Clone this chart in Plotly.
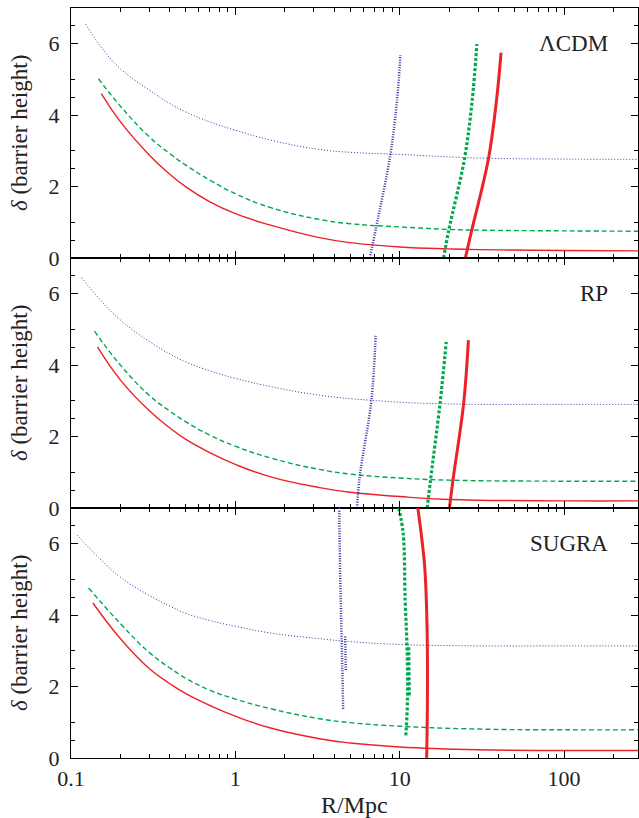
import plotly.graph_objects as go
from plotly.subplots import make_subplots
import math

# ---------------- data (R in Mpc, delta) ----------------
# Panel 1: LambdaCDM
lcdm_blue_R = [0.123, 0.15, 0.2, 0.3, 0.4, 0.5, 0.7, 1, 1.64, 3.25, 5, 10, 30, 100, 282]
lcdm_blue_d = [6.55, 5.95, 5.30, 4.70, 4.32, 4.09, 3.81, 3.58, 3.30, 3.04, 2.96, 2.90, 2.80, 2.77, 2.76]
lcdm_green_R = [0.147, 0.2, 0.3, 0.4, 0.5, 0.7, 1, 1.64, 3.25, 5, 10, 20, 30, 100, 282]
lcdm_green_d = [5.02, 4.25, 3.39, 2.92, 2.60, 2.18, 1.80, 1.41, 1.08, 0.96, 0.87, 0.80, 0.78, 0.76, 0.75]
lcdm_red_R = [0.153, 0.2, 0.3, 0.4, 0.5, 0.7, 1, 1.64, 3.25, 5, 10, 20, 30, 100, 282]
lcdm_red_d = [4.60, 3.81, 2.88, 2.34, 1.99, 1.57, 1.24, 0.92, 0.57, 0.43, 0.31, 0.255, 0.235, 0.21, 0.2]
lcdm_tblue_R = [6.58, 7.2, 8.77, 9.63, 10.1]
lcdm_tblue_d = [0.0, 0.87, 2.88, 4.4, 5.68]
lcdm_tgreen_R = [18.5, 19.9, 24.8, 27.6, 29.5]
lcdm_tgreen_d = [0.0, 0.78, 2.78, 4.4, 5.99]
lcdm_tred_R = [25.1, 27.2, 34.7, 38.8, 41.4]
lcdm_tred_d = [0.0, 0.7, 2.78, 4.4, 5.75]

# Panel 2: RP
rp_blue_R = [0.116, 0.15, 0.2, 0.3, 0.4, 0.5, 0.7, 1, 1.64, 3.25, 6.5, 17.5, 100, 282]
rp_blue_d = [6.45, 5.84, 5.26, 4.66, 4.31, 4.09, 3.84, 3.63, 3.40, 3.16, 3.02, 2.92, 2.90, 2.90]
rp_green_R = [0.139, 0.2, 0.3, 0.4, 0.5, 0.7, 1, 1.64, 3.25, 5, 10, 20, 100, 282]
rp_green_d = [4.95, 4.00, 3.15, 2.71, 2.41, 2.04, 1.73, 1.40, 1.08, 0.95, 0.84, 0.78, 0.75, 0.75]
rp_red_R = [0.145, 0.2, 0.3, 0.4, 0.5, 0.7, 1, 1.64, 3.25, 5, 10, 20, 100, 282]
rp_red_d = [4.51, 3.58, 2.72, 2.24, 1.92, 1.55, 1.22, 0.87, 0.57, 0.44, 0.32, 0.24, 0.20, 0.20]
rp_tblue_R = [5.5, 5.71, 6.73, 7.14]
rp_tblue_d = [0.0, 0.87, 3.02, 4.82]
rp_tgreen_R = [14.7, 15.4, 17.6, 19.2]
rp_tgreen_d = [0.0, 0.78, 2.92, 4.65]
rp_tred_R = [20.1, 21.1, 24.5, 26.2]
rp_tred_d = [0.0, 0.78, 2.92, 4.70]

# Panel 3: SUGRA
sg_blue_R = [0.109, 0.15, 0.2, 0.3, 0.4, 0.5, 0.7, 1, 1.64, 3.25, 5, 10, 30, 100, 282]
sg_blue_d = [6.24, 5.58, 5.06, 4.55, 4.25, 4.05, 3.85, 3.69, 3.50, 3.34, 3.26, 3.18, 3.14, 3.14, 3.14]
sg_green_R = [0.128, 0.2, 0.3, 0.4, 0.5, 0.7, 1, 1.64, 3.25, 5, 10, 30, 100, 282]
sg_green_d = [4.76, 3.76, 2.95, 2.52, 2.23, 1.90, 1.65, 1.38, 1.10, 0.99, 0.89, 0.81, 0.79, 0.79]
sg_red_R = [0.136, 0.2, 0.3, 0.4, 0.5, 0.7, 1, 1.64, 3.25, 5, 10, 30, 100, 282]
sg_red_d = [4.34, 3.34, 2.50, 2.08, 1.80, 1.47, 1.17, 0.84, 0.54, 0.42, 0.31, 0.23, 0.21, 0.21]
sg_tblue_R = [4.29, 4.33, 4.40, 4.47, 4.53, None, 4.66, 4.70]
sg_tblue_d = [7.0, 5.5, 4.0, 2.6, 1.34, None, 3.4, 2.45]
sg_tgreen_R = [9.86, 10.5, 10.8, 11.1, 11.15, 10.9, None, 11.35, 11.45]
sg_tgreen_d = [7.0, 6.3, 4.4, 3.0, 1.6, 0.63, None, 3.1, 1.7]
sg_tred_R = [12.9, 14.2, 14.7, 14.75, 14.6]
sg_tred_d = [7.0, 5.35, 3.48, 1.6, 0.0]

panel_names = ["ΛCDM", "RP", "SUGRA"]
x_major = [0.1, 1, 10, 100]
x_minor = [0.2, 0.3, 0.4, 0.5, 0.6, 0.7, 0.8, 0.9, 2, 3, 4, 5, 6, 7, 8, 9,
           20, 30, 40, 50, 60, 70, 80, 90, 200]
y_major = [0, 2, 4, 6]
y_minor = [0.5, 1, 2.5, 3, 4.5, 5, 6.5]

panels = [
    (lcdm_blue_R, lcdm_blue_d, lcdm_green_R, lcdm_green_d, lcdm_red_R, lcdm_red_d,
     lcdm_tblue_R, lcdm_tblue_d, lcdm_tgreen_R, lcdm_tgreen_d, lcdm_tred_R, lcdm_tred_d),
    (rp_blue_R, rp_blue_d, rp_green_R, rp_green_d, rp_red_R, rp_red_d,
     rp_tblue_R, rp_tblue_d, rp_tgreen_R, rp_tgreen_d, rp_tred_R, rp_tred_d),
    (sg_blue_R, sg_blue_d, sg_green_R, sg_green_d, sg_red_R, sg_red_d,
     sg_tblue_R, sg_tblue_d, sg_tgreen_R, sg_tgreen_d, sg_tred_R, sg_tred_d),
]

BLUE = "#34349c"
GREEN = "#00a84f"
RED = "#ec2229"
FONT = "Liberation Serif"
TXT = "#222"
SM = 1.3

fig = make_subplots(rows=3, cols=1, shared_xaxes=True, vertical_spacing=0)

for i, p in enumerate(panels):
    row = i + 1
    (bR, bd, gR, gd, rR, rd, tbR, tbd, tgR, tgd, trR, trd) = p
    fig.add_trace(go.Scatter(x=bR, y=bd, mode="lines",
                             line=dict(color=BLUE, width=1, dash="1px,2px",
                                       shape="spline", smoothing=SM),
                             showlegend=False), row=row, col=1)
    fig.add_trace(go.Scatter(x=gR, y=gd, mode="lines",
                             line=dict(color=GREEN, width=1.4, dash="5px,3px",
                                       shape="spline", smoothing=SM),
                             showlegend=False), row=row, col=1)
    fig.add_trace(go.Scatter(x=rR, y=rd, mode="lines",
                             line=dict(color=RED, width=1.4,
                                       shape="spline", smoothing=SM),
                             showlegend=False), row=row, col=1)
    fig.add_trace(go.Scatter(x=tbR, y=tbd, mode="lines",
                             line=dict(color=BLUE, width=2.5, dash="1px,1.5px",
                                       shape="spline"),
                             showlegend=False), row=row, col=1)
    fig.add_trace(go.Scatter(x=tgR, y=tgd, mode="lines",
                             line=dict(color=GREEN, width=3.2, dash="3px,2px",
                                       shape="spline"),
                             showlegend=False), row=row, col=1)
    fig.add_trace(go.Scatter(x=trR, y=trd, mode="lines",
                             line=dict(color=RED, width=3, shape="spline"),
                             showlegend=False), row=row, col=1)

axis_common = dict(showline=True, linecolor="black", linewidth=1.3, mirror="ticks",
                   ticks="inside", tickcolor="black", showgrid=False, zeroline=False)

for i in range(3):
    row = i + 1
    fig.update_xaxes(type="log", range=[-1, math.log10(282)],
                     tickmode="array", tickvals=x_major,
                     ticktext=[str(v) for v in x_major],
                     ticklen=7, tickwidth=1.3,
                     minor=dict(tickmode="array", tickvals=x_minor, ticks="inside",
                                ticklen=4, tickwidth=1, tickcolor="black"),
                     showticklabels=(row == 3),
                     tickfont=dict(family=FONT, size=22, color=TXT),
                     **axis_common, row=row, col=1)
    fig.update_yaxes(range=[0, 7], tickmode="array", tickvals=y_major,
                     ticklen=7, tickwidth=1.3,
                     minor=dict(tickmode="array", tickvals=y_minor, ticks="inside",
                                ticklen=4, tickwidth=1, tickcolor="black"),
                     tickfont=dict(family=FONT, size=22, color=TXT),
                     ticklabelstandoff=6,
                     **axis_common, row=row, col=1)

W, H = 639, 818
L, R, T, B = 71, 1, 8, 60
pw = W - L - R
ph = H - T - B

annotations = []
for i, name in enumerate(panel_names):
    yref = "y" if i == 0 else f"y{i+1}"
    annotations.append(dict(text=name, x=(610 - L) / pw, xref="paper", xanchor="right",
                            y=6, yref=yref, yanchor="middle", showarrow=False,
                            font=dict(family=FONT, size=23, color=TXT)))
    annotations.append(dict(text="<i>δ</i> (barrier height)", textangle=-90,
                            x=(19 - L) / pw, xref="paper", xanchor="center",
                            y=3.5, yref=yref, yanchor="middle", showarrow=False,
                            font=dict(family=FONT, size=23, color=TXT)))
annotations.append(dict(text="R/Mpc", x=0.5, xref="paper", xanchor="center",
                        y=-(805 - (H - B)) / ph, yref="paper", yanchor="middle",
                        showarrow=False, font=dict(family=FONT, size=24, color=TXT)))

fig.update_layout(width=W, height=H, margin=dict(l=L, r=R, t=T, b=B),
                  plot_bgcolor="white", paper_bgcolor="white",
                  annotations=annotations, showlegend=False)

fig.write_html("out.html")
